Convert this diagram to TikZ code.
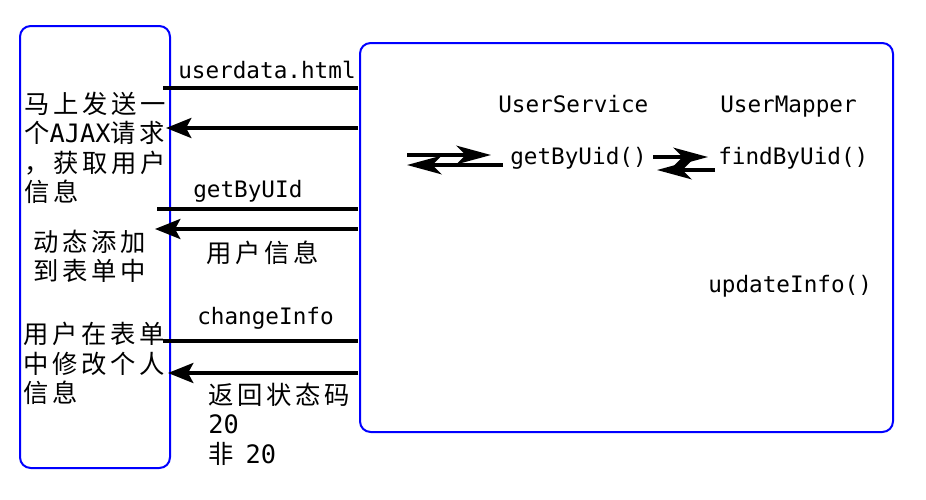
\documentclass[tikz,border=0pt]{standalone}
\usepackage{fontspec}
\setmonofont{DejaVu Sans Mono}
\newfontfamily\cjk[LetterSpace=15]{Noto Sans CJK SC}
\usetikzlibrary{arrows.meta}
\tikzset{
  box/.style={blue,line width=1.5pt,rounded corners=8pt},
  msg/.style={line width=2.8pt},
  ret/.style={msg,-{Stealth[length=19pt,width=15pt,inset=4pt]}},
  call/.style={msg,-{Stealth[length=26pt,width=14pt,inset=7pt]}},
  code/.style={font=\ttfamily\fontsize{17}{20}\selectfont,inner sep=0pt,anchor=west,text height=13pt,text depth=3pt},
  note/.style={font=\cjk\fontsize{19}{22}\selectfont,inner sep=0pt,anchor=north west,align=left},
}
\begin{document}
\begin{tikzpicture}[x=0.75pt,y=-0.75pt]
  \useasboundingbox (0,0) rectangle (926,500);
  \draw[box] (20,26) rectangle (170,468);
  \draw[box] (360,43) rectangle (893,432);
  \node[code] (html) at (178,72) {userdata.html};
  \node[code] (byuid) at (193,191) {getByUId};
  \node[code] (change) at (197,318) {changeInfo};
  \node[code] (service) at (498,106) {UserService};
  \node[code] (mapper) at (720,106) {UserMapper};
  \node[code] (getfn) at (510,158) {getByUid()};
  \node[code] (findfn) at (718,158) {findByUid()};
  \node[code] (updfn) at (708,286) {updateInfo()};
  \node[note] (ajax) at (24,92) {马上发送一\\个{\ttfamily AJAX}请求\\，获取用户\\信息};
  \node[note] (fill) at (33,230) {动态添加\\到表单中};
  \node[note] (edit) at (23,322) {用户在表单\\中修改个人\\信息};
  \node[note] (info) at (206,241) {用户信息};
  \node[note] (status) at (208,383) {返回状态码\\{\ttfamily 20}\\非\hspace{9pt}{\ttfamily 20}};
  \coordinate (s1) at (358,88);  \coordinate (c1) at (163,88);
  \coordinate (s2) at (358,128); \coordinate (c2) at (166,128);
  \coordinate (s3) at (358,209); \coordinate (c3) at (157,209);
  \coordinate (s4) at (358,229); \coordinate (c4) at (155,229);
  \coordinate (s5) at (358,341); \coordinate (c5) at (163,341);
  \coordinate (s6) at (358,373); \coordinate (c6) at (168,373);
  \coordinate (g1) at (407,155); \coordinate (g2) at (491,155);
  \coordinate (g3) at (503,165); \coordinate (g4) at (407,165);
  \coordinate (f1) at (653,157); \coordinate (f2) at (708,157);
  \coordinate (f3) at (715,170); \coordinate (f4) at (657,170);
  \draw[msg] (s1) -- (c1);
  \draw[ret] (s2) -- (c2);
  \draw[msg] (s3) -- (c3);
  \draw[ret] (s4) -- (c4);
  \draw[msg] (s5) -- (c5);
  \draw[ret] (s6) -- (c6);
  \draw[call] (g1) -- (g2);
  \draw[call] (g3) -- (g4);
  \draw[call] (f1) -- (f2);
  \draw[call] (f3) -- (f4);
\end{tikzpicture}
\end{document}
